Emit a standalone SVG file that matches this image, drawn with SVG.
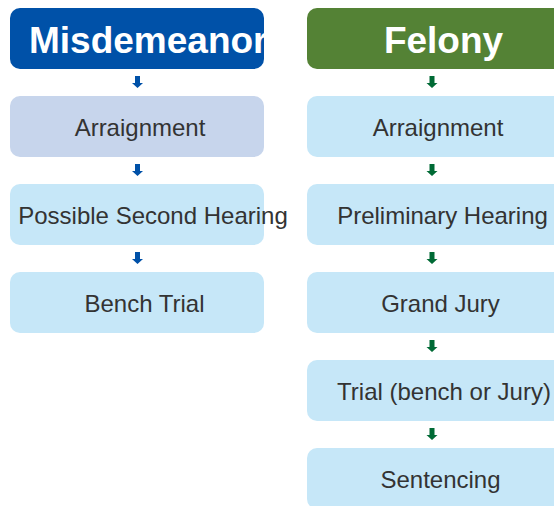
<svg xmlns="http://www.w3.org/2000/svg" width="554" height="506" viewBox="0 0 554 506">
<defs>
<style>
.hdr{font-family:"Liberation Sans",Arial,sans-serif;font-weight:bold;font-size:37px;fill:#ffffff}
.lbl{font-family:"Liberation Sans",Arial,sans-serif;font-size:24px;fill:#333333;text-anchor:middle}
.nb{fill:#C6E7F8}
.ab{fill:#0051A8}
.ag{fill:#006A35}
</style>
<clipPath id="clipM"><rect x="10" y="8" width="254" height="61" rx="10"/></clipPath>
<path id="arr" d="M-2.5,0 H2.5 V7 H5.5 L0,12 L-5.5,7 H-2.5 Z"/>
</defs>
<rect width="554" height="506" fill="#ffffff"/>
<g id="misdemeanor">
<rect x="10" y="8" width="254" height="61" rx="10" fill="#0051A8"/>
<text class="hdr" x="29" y="53" clip-path="url(#clipM)">Misdemeanor</text>
</g>
<g id="felony">
<rect x="307" y="8" width="270" height="61" rx="10" fill="#548235"/>
<text class="hdr" x="443.5" y="53" text-anchor="middle">Felony</text>
</g>
<g id="m-arraignment">
<rect x="10" y="96" width="254" height="61" rx="10" fill="#C7D5EC"/>
<text class="lbl" x="140" y="136">Arraignment</text>
</g>
<g id="m-second">
<rect class="nb" x="10" y="184" width="254" height="61" rx="10"/>
<text class="lbl" x="153" y="224">Possible Second Hearing</text>
</g>
<g id="m-bench">
<rect class="nb" x="10" y="272" width="254" height="61" rx="10"/>
<text class="lbl" x="144.5" y="312">Bench Trial</text>
</g>
<g id="f-arraignment">
<rect class="nb" x="307" y="96" width="270" height="61" rx="10"/>
<text class="lbl" x="438" y="136">Arraignment</text>
</g>
<g id="f-preliminary">
<rect class="nb" x="307" y="184" width="270" height="61" rx="10"/>
<text class="lbl" x="442.5" y="224">Preliminary Hearing</text>
</g>
<g id="f-grandjury">
<rect class="nb" x="307" y="272" width="270" height="61" rx="10"/>
<text class="lbl" x="440.5" y="312">Grand Jury</text>
</g>
<g id="f-trial">
<rect class="nb" x="307" y="360" width="270" height="61" rx="10"/>
<text class="lbl" x="444" y="400">Trial (bench or Jury)</text>
</g>
<g id="f-sentencing">
<rect class="nb" x="307" y="448" width="270" height="61" rx="10"/>
<text class="lbl" x="440.5" y="488">Sentencing</text>
</g>
<g id="connectors">
<use href="#arr" class="ab" x="137.5" y="76"/>
<use href="#arr" class="ab" x="137.5" y="164"/>
<use href="#arr" class="ab" x="137.5" y="252"/>
<use href="#arr" class="ag" x="432" y="76"/>
<use href="#arr" class="ag" x="432" y="164"/>
<use href="#arr" class="ag" x="432" y="252"/>
<use href="#arr" class="ag" x="432" y="340"/>
<use href="#arr" class="ag" x="432" y="428"/>
</g>
</svg>
